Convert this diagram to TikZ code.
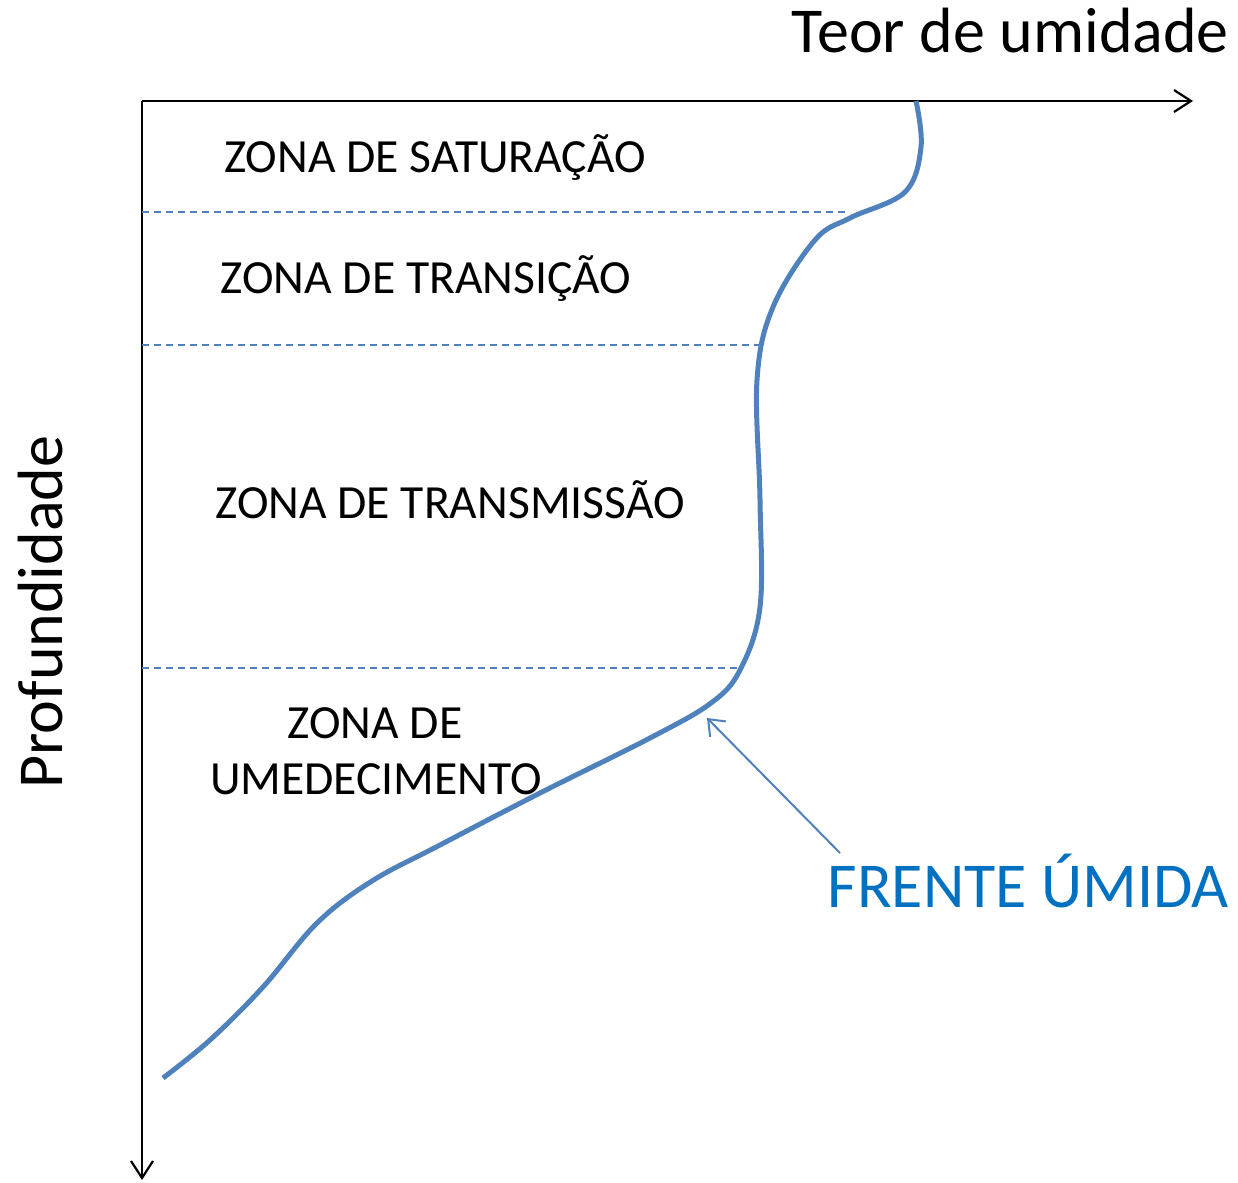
\documentclass[tikz,border=0pt]{standalone}
\usepackage{fontspec}
\setmainfont{Carlito}
\usetikzlibrary{arrows.meta}
\definecolor{curveblue}{HTML}{4F81BD}
\definecolor{textblue}{HTML}{0070C0}
\tikzset{
  axis/.style={line width=2.2pt, -{Straight Barb[length=17pt,width=22pt,line width=2.2pt]}},
  zoneline/.style={curveblue, line width=1.4pt, dash pattern=on 7pt off 5pt},
  front/.style={curveblue, line width=5pt},
  pointer/.style={curveblue, line width=2pt, -{Straight Barb[length=14pt,width=22pt,line width=2pt]}},
  zonelabel/.style={font=\fontsize{47.6}{56}\selectfont, anchor=base, inner sep=0pt},
  axislabel/.style={font=\fontsize{64}{72}\selectfont, inner sep=0pt},
}
\begin{document}
\begin{tikzpicture}[x=1pt, y=-1pt]
\useasboundingbox (0,0) rectangle (1238,1182);
% axes
\coordinate (O) at (142,101);
\coordinate (Xend) at (1193,101);
\coordinate (Yend) at (142,1180);
\draw[axis] (O) -- (Xend);
\draw[axis] (O) -- (Yend);
\node[axislabel, anchor=base east] (teor) at (1229,53) {Teor de umidade};
\node[axislabel, anchor=base, rotate=90] (prof) at (62,612) {Profundidade};
% zone boundaries
\coordinate (d1a) at (142,212); \coordinate (d1b) at (850,212);
\coordinate (d2a) at (142,345); \coordinate (d2b) at (762,345);
\coordinate (d3a) at (142,668); \coordinate (d3b) at (738,668);
\draw[zoneline] (d1a) -- (d1b);
\draw[zoneline] (d2a) -- (d2b);
\draw[zoneline] (d3a) -- (d3b);
% zone labels
\node[zonelabel] (z1) at (435,173) {ZONA DE SATURAÇÃO};
\node[zonelabel] (z2) at (426,293) {ZONA DE TRANSIÇÃO};
\node[zonelabel] (z3) at (450,518) {ZONA DE TRANSMISSÃO};
\node[zonelabel] (z4a) at (375,738) {ZONA DE};
\node[zonelabel] (z4b) at (376,794) {UMEDECIMENTO};
% moisture profile curve
\draw[front, line cap=butt] plot[smooth, tension=0.6] coordinates {
  (916,101) (921,147) (905,192) (850,218) (815,240)
  (773,307) (757,380) (760,500) (760,607) (740,670)
  (711,703) (650,738) (540,793) (440,845) (372,881)
  (317,923) (263,987) (210,1040) (163,1078)};
% wetting front label
\node[axislabel, text=textblue, anchor=base east] (frente) at (1229,907) {FRENTE ÚMIDA};
\coordinate (ptr) at (707,718);
\coordinate (ptrstart) at (840,853);
\draw[pointer] (ptrstart) -- (ptr);
\end{tikzpicture}
\end{document}
